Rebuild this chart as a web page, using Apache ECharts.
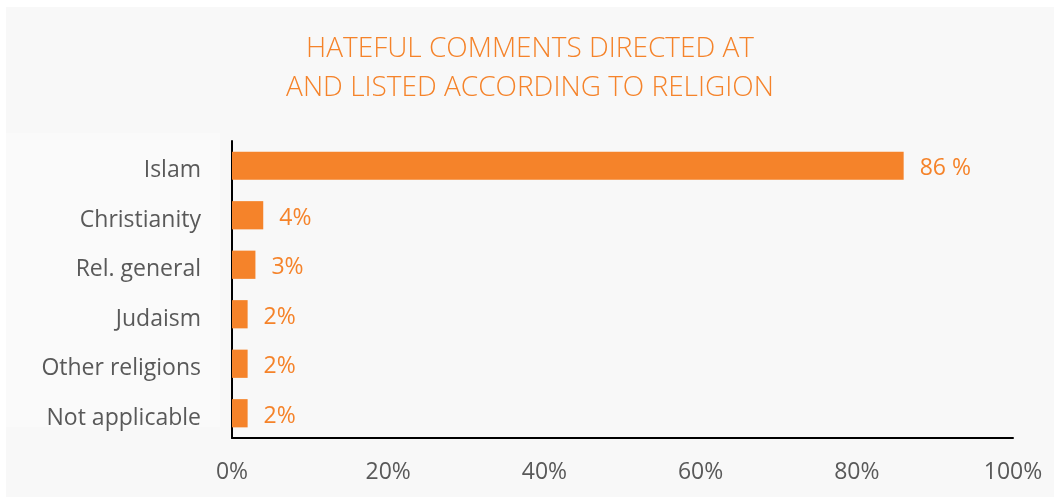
<!DOCTYPE html>
<html>
<head>
<meta charset="utf-8">
<script src="https://cdn.jsdelivr.net/npm/echarts@6/dist/echarts.min.js"></script>
<style>
  html, body { margin: 0; padding: 0; background: #ffffff; }
  #chart { position: absolute; left: 6px; top: 7px; width: 1048px; height: 490px; }
</style>
</head>
<body>
<div id="chart"></div>
<script>
// Share of hateful comments per religion (percent)
const categories = ['Islam', 'Christianity', 'Rel. general', 'Judaism', 'Other religions', 'Not applicable'];
const shares = [86, 4, 3, 2, 2, 2];
const shareLabels = ['86 %', '4%', '3%', '2%', '2%', '2%'];
const xTicks = [0, 20, 40, 60, 80, 100];

const orange = '#F5832A';
const chart = echarts.init(document.getElementById('chart'));

chart.setOption({
  backgroundColor: '#f8f8f8',
  animation: false,
  title: {
    text: 'HATEFUL COMMENTS DIRECTED AT\nAND LISTED ACCORDING TO RELIGION',
    left: 'center',
    top: 23,
    padding: [0, 0, 0, 11],
    textStyle: {
      color: orange,
      fontFamily: 'Open Sans',
      fontWeight: 300,
      fontSize: 28,
      lineHeight: 39
    }
  },
  graphic: [{
    type: 'rect',
    z: -1,
    shape: { x: 0, y: 126, width: 214, height: 294 },
    style: { fill: '#fafafa' }
  }],
  grid: { left: 226, right: 41, top: 134, bottom: 59 },
  xAxis: {
    type: 'value',
    min: 0,
    max: 100,
    interval: 20,
    axisLine: { show: true, lineStyle: { color: '#000', width: 2 } },
    axisTick: { show: false },
    splitLine: { show: false },
    axisLabel: {
      color: '#595959',
      fontFamily: 'Open Sans',
      fontSize: 23,
      margin: 23,
      formatter: v => xTicks.includes(v) ? v + '%' : ''
    }
  },
  yAxis: {
    type: 'category',
    data: categories,
    inverse: true,
    axisLine: { show: true, lineStyle: { color: '#000', width: 2 } },
    axisTick: { show: false },
    axisLabel: {
      margin: 31,
      formatter: v => '{c|' + v + '}',
      rich: {
        c: {
          color: '#595959',
          fontFamily: 'Open Sans',
          fontSize: 23,
          padding: [10, 0, 0, 0]
        }
      }
    }
  },
  series: [{
    type: 'bar',
    data: shares,
    barCategoryGap: '43%',
    itemStyle: { color: orange },
    label: {
      show: true,
      position: 'right',
      distance: 16,
      formatter: p => '{v|' + shareLabels[p.dataIndex] + '}',
      rich: {
        v: {
          color: orange,
          fontFamily: 'Open Sans',
          fontSize: 23,
          padding: [6, 0, 0, 0]
        }
      }
    }
  }]
});
</script>
</body>
</html>
